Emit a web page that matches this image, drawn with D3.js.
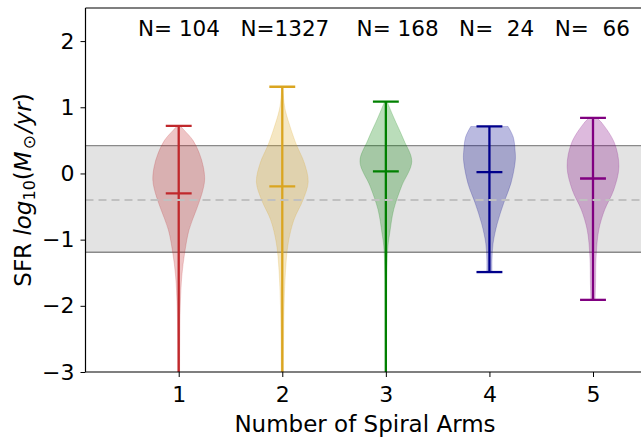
<!DOCTYPE html>
<html><head><meta charset="utf-8">
<script src="https://cdn.jsdelivr.net/npm/d3@7"></script>
<style>html,body{margin:0;padding:0;background:#fff;}svg{display:block;font-family:"DejaVu Sans",sans-serif;}</style>
</head><body><svg id="c" width="641" height="437"></svg>
<script>
const positions = [1, 2, 3, 4, 5];
const counts = [104, 1327, 168, 24, 66];
const colors = ["#c0282c", "#daa520", "#008000", "#00008b", "#800080"];
const medians = [-0.30, -0.195, 0.03, 0.02, -0.076];
const maxima = [0.72, 1.31, 1.085, 0.71, 0.84];
const minima = [-3.3, -3.3, -3.3, -1.49, -1.91];
// density profiles: [value, relative width]
const prof1 = [[0.72,0.05],[0.65,0.22],[0.5,0.55],[0.3,0.8],[0.1,0.95],[-0.1,1.0],[-0.3,0.9],[-0.55,0.68],[-0.85,0.4],[-1.2,0.23],[-1.55,0.12],[-2.0,0.06],[-2.5,0.04],[-3.3,0.03]];
const prof2 = [[1.31,0.02],[1.1,0.06],[0.95,0.12],[0.65,0.35],[0.43,0.55],[0.16,0.85],[-0.13,1.0],[-0.4,0.8],[-0.7,0.45],[-1.05,0.23],[-1.5,0.12],[-2.0,0.07],[-2.5,0.05],[-3.3,0.04]];
const prof3 = [[1.085,0.05],[0.85,0.3],[0.5,0.7],[0.18,1.0],[-0.2,0.6],[-0.55,0.3],[-0.9,0.15],[-1.1,0.08],[-1.5,0.04],[-2.0,0.03],[-3.3,0.02]];
const prof4 = [[0.71,0.72],[0.55,0.92],[0.35,0.99],[0.2,1.0],[-0.15,0.83],[-0.45,0.55],[-0.76,0.3],[-1.06,0.14],[-1.3,0.1],[-1.49,0.1]];
const prof5 = [[0.84,0.15],[0.76,0.35],[0.46,0.83],[0.1,1.0],[-0.25,0.8],[-0.55,0.45],[-0.86,0.22],[-1.26,0.12],[-1.66,0.1],[-1.91,0.08]];
const profiles = [prof1, prof2, prof3, prof4, prof5];
const bandLow = -1.19, bandHigh = 0.42, bandMid = -0.40;
const yTicks = [-3, -2, -1, 0, 1, 2];
const xLabel = "Number of Spiral Arms";
const nSeparators = ["   ", "    ", "   ", "   "];

const svg = d3.select("#c");
const L = 85.5, R = 680, T = 8, B = 372;
const x = d3.scaleLinear().domain([0.1, 5.84]).range([L, R]);
const y = d3.scaleLinear().domain([-3, 2.5]).range([B, T]);
const hw = d3.scaleLinear().domain([0, 1]).range([0, x(1.25) - x(1)]);

svg.append("defs").append("clipPath").attr("id","clip").append("rect")
  .attr("x", L).attr("y", T).attr("width", R - L).attr("height", B - T);
const g = svg.append("g").attr("clip-path","url(#clip)");

// band
g.append("rect").attr("x", L).attr("width", R - L)
  .attr("y", y(bandHigh)).attr("height", y(bandLow) - y(bandHigh))
  .attr("fill", "#e3e3e3");
[bandLow, bandHigh].forEach(v => g.append("line").attr("x1", L).attr("x2", R)
  .attr("y1", y(v)).attr("y2", y(v)).attr("stroke", "#8a8a8a").attr("stroke-width", 1.4));

// violins
positions.forEach((p, i) => {
  const area = d3.area().curve(d3.curveCatmullRom)
    .y(d => y(d[0])).x0(d => x(p) - hw(d[1])).x1(d => x(p) + hw(d[1]));
  g.append("path").attr("d", area(profiles[i]))
    .attr("fill", colors[i]).attr("fill-opacity", 0.27)
    .attr("stroke", colors[i]).attr("stroke-opacity", 0.2).attr("stroke-width", 1);
});
// lines, caps, medians
positions.forEach((p, i) => {
  const c = colors[i];
  const cw = hw(0.5);
  g.append("line").attr("x1", x(p)).attr("x2", x(p)).attr("y1", y(maxima[i])).attr("y2", y(minima[i]))
    .attr("stroke", c).attr("stroke-width", 2.3);
  [maxima[i], minima[i], medians[i]].forEach(v => g.append("line")
    .attr("x1", x(p) - cw).attr("x2", x(p) + cw).attr("y1", y(v)).attr("y2", y(v))
    .attr("stroke", c).attr("stroke-width", 2.3));
});
// dashed mean line
g.append("line").attr("x1", L).attr("x2", R).attr("y1", y(bandMid)).attr("y2", y(bandMid))
  .attr("stroke", "#c0c0c0").attr("stroke-width", 2).attr("stroke-dasharray", "8,5");

// axes
const yAxis = d3.axisLeft(y).tickValues(yTicks).tickSize(5).tickPadding(6).tickFormat(d => d < 0 ? "\u2212" + Math.abs(d) : d);
const xAxis = d3.axisBottom(x).tickValues(positions).tickSize(5).tickPadding(9).tickFormat(d3.format("d"));
const ya = svg.append("g").attr("transform", `translate(${L},0)`).call(yAxis);
const xa = svg.append("g").attr("transform", `translate(0,${B})`).call(xAxis);
[ya, xa].forEach(a => {
  a.selectAll("path.domain").remove();
  a.selectAll("line").attr("stroke", "#000").attr("stroke-width", 1);
  a.selectAll("text").attr("font-family", "DejaVu Sans").attr("font-size", 22).attr("fill", "#000");
});
// spines
svg.append("line").attr("x1", L).attr("x2", L).attr("y1", T).attr("y2", B).attr("stroke", "#000").attr("stroke-width", 1.2);
svg.append("line").attr("x1", L).attr("x2", R).attr("y1", T).attr("y2", T).attr("stroke", "#000").attr("stroke-width", 1.2);
svg.append("line").attr("x1", L).attr("x2", R).attr("y1", B).attr("y2", B).attr("stroke", "#000").attr("stroke-width", 1.2);

// N labels
const nText = counts.map((n, i) => "N=" + String(n).padStart(4, " ") + (i < nSeparators.length ? nSeparators[i] : "")).join("");
svg.append("text").attr("x", 138).attr("y", 36).attr("text-anchor", "start")
  .attr("xml:space", "preserve").style("white-space", "pre")
  .attr("font-size", 21.5).attr("fill", "#000").text(nText);

// x label
svg.append("text").attr("x", 365).attr("y", 432).attr("text-anchor", "middle")
  .attr("font-size", 23).attr("fill", "#000").text(xLabel);

// y label
const yl = svg.append("text").attr("transform", `translate(31,${(T + B) / 2}) rotate(-90)`)
  .attr("text-anchor", "middle").attr("font-size", 23).attr("fill", "#000");
yl.append("tspan").text("SFR ");
yl.append("tspan").attr("font-style", "italic").text("log");
yl.append("tspan").attr("font-size", 16).attr("dy", 4).text("10");
yl.append("tspan").attr("dy", -4).text("(");
yl.append("tspan").attr("font-style", "italic").text("M");
yl.append("tspan").attr("font-size", 17).attr("dy", 4).attr("dx", 2).text("\u2299");
yl.append("tspan").attr("dy", -4).attr("dx", 2).attr("font-style", "italic").text("/yr");
yl.append("tspan").text(")");
</script></body></html>
